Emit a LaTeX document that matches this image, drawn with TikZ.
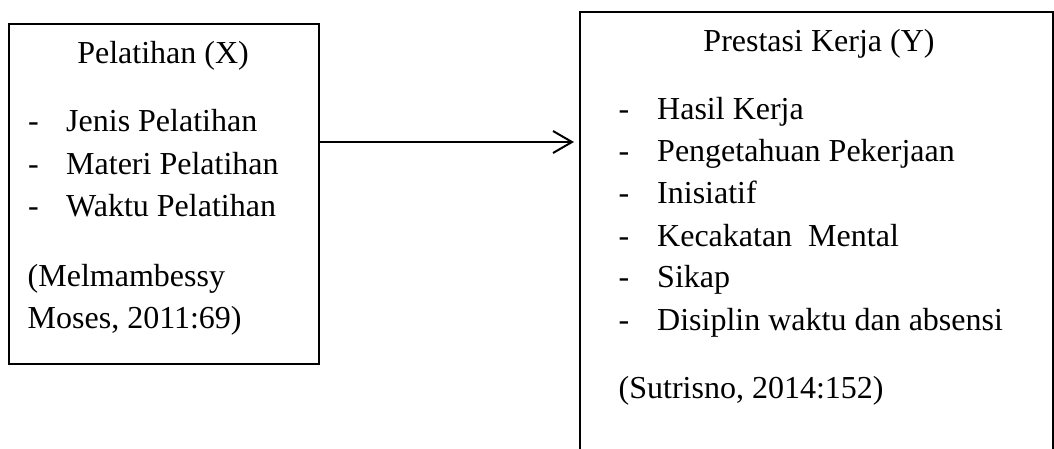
\documentclass[tikz,border=0pt]{standalone}
\usepackage{fontspec}
\setmainfont{Liberation Serif}
\usetikzlibrary{arrows.meta}
\tikzset{
  box/.style={draw=black, line width=2pt, rectangle, inner sep=0pt, anchor=north west},
  txt/.style={anchor=base west, inner sep=0pt, font=\fontsize{32}{42}\selectfont},
  ttl/.style={anchor=base, inner sep=0pt, font=\fontsize{32}{42}\selectfont},
  link/.style={line width=2pt, -{Straight Barb[length=19pt, width=22pt, line width=2pt]}, shorten >=5pt}
}
\begin{document}
\begin{tikzpicture}[x=1pt, y=-1pt]
\clip (0,0) rectangle (1054,448);
\useasboundingbox (0,0) rectangle (1054,448);
% boxes
\node[box, minimum width=310pt, minimum height=340pt] (left) at (8,23) {};
\node[box, minimum width=473pt, minimum height=470pt] (right) at (579,11) {};
% left box text
\node[ttl] (lt) at (163,63) {Pelatihan (X)};
\node[txt] (ld1) at (28,131.7) {-};
\node[txt] (li1) at (66,131.7) {Jenis Pelatihan};
\node[txt] (ld2) at (28,174) {-};
\node[txt] (li2) at (66,174) {Materi Pelatihan};
\node[txt] (ld3) at (28,216.5) {-};
\node[txt] (li3) at (66,216.5) {Waktu Pelatihan};
\node[txt] (lr1) at (27.5,286.5) {(Melmambessy};
\node[txt] (lr2) at (27.5,328.5) {Moses, 2011:69)};
% right box text
\node[ttl] (rt) at (819,51) {Prestasi Kerja (Y)};
\node[txt] (rd1) at (618.5,119.3) {-};
\node[txt] (ri1) at (657,119.3) {Hasil Kerja};
\node[txt] (rd2) at (618.5,161.7) {-};
\node[txt] (ri2) at (657,161.7) {Pengetahuan Pekerjaan};
\node[txt] (rd3) at (618.5,203.5) {-};
\node[txt] (ri3) at (657,203.5) {Inisiatif};
\node[txt] (rd4) at (618.5,246) {-};
\node[txt] (ri4) at (657,246) {Kecakatan\ \ Mental};
\node[txt] (rd5) at (618.5,287.5) {-};
\node[txt] (ri5) at (657,287.5) {Sikap};
\node[txt] (rd6) at (618.5,330.5) {-};
\node[txt] (ri6) at (657,330.5) {Disiplin waktu dan absensi};
\node[txt] (rr) at (618.5,398.3) {(Sutrisno, 2014:152)};
% connector
\coordinate (a) at (left.east |- 0,142);
\coordinate (b) at (right.west |- 0,142);
\draw[link] (a) -- (b);
\end{tikzpicture}
\end{document}
